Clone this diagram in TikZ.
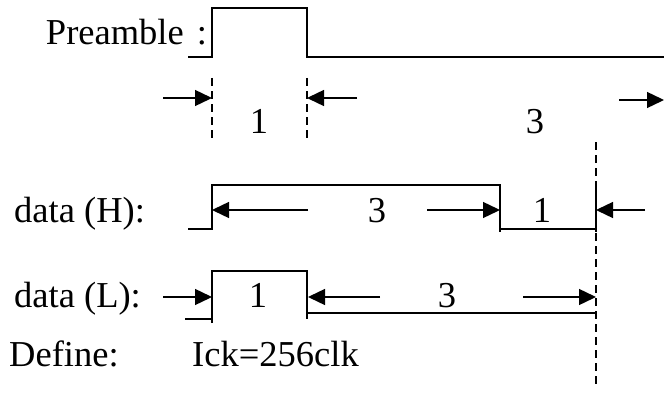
\documentclass[tikz,border=0pt]{standalone}
\usepackage{fontspec}
\setmainfont{Liberation Serif}
\usetikzlibrary{arrows.meta, positioning}

\begin{document}
\begin{tikzpicture}[
    x=1pt, y=-1pt,
    wave/.style={line width=2pt},
    dim/.style={-{Triangle[length=17pt, width=16pt]}, line width=1.4pt},
    guide/.style={line width=1.4pt, dash pattern=on 8pt off 5pt},
    lbl/.style={font=\fontsize{36.5}{40}\selectfont, inner sep=0pt, anchor=base},
    signame/.style={lbl, anchor=base west}
]
    \useasboundingbox (0,0) rectangle (664,396);

    % Signal names
    \node[lbl, anchor=base east] (pre) at (184,45) {Preamble};
    \node[lbl] (colon) at (202,45) {:};
    \node[signame] (dh) at (14,222) {data (H):};
    \node[signame] (dl) at (14,307) {data (L):};
    \node[signame] (def) at (9,366) {Define:};
    \node[signame] (ick) at (192,366) {Ick=256clk};

    % Edge points
    \coordinate (pa) at (212,98);
    \coordinate (pb) at (307,98);
    \coordinate (pc) at (664,100);
    \coordinate (pa0) at (163,98);
    \coordinate (pb0) at (357,98);
    \coordinate (pc0) at (619,100);
    \coordinate (ha) at (212,210);
    \coordinate (hb) at (500,210);
    \coordinate (hc) at (596,210);
    \coordinate (ha0) at (308,210);
    \coordinate (hb0) at (427,210);
    \coordinate (hc0) at (645,210);
    \coordinate (la) at (212,297);
    \coordinate (lb) at (308,297);
    \coordinate (lc) at (596,297);
    \coordinate (la0) at (163,297);
    \coordinate (lb0) at (380,297);
    \coordinate (lc0) at (523,297);

    % Waveforms
    \draw[wave] (188,57) -- (212,57) -- (212,8) -- (307,8) -- (307,57) -- (664,57);
    \draw[wave] (188,229) -- (212,229) -- (212,185) -- (500,185) -- (500,232);
    \draw[wave] (500,229) -- (596,229);
    \draw[wave] (596,185) -- (596,232);
    \draw[wave] (185,319) -- (212,319);
    \draw[wave] (212,323) -- (212,271) -- (307,271) -- (307,319);
    \draw[wave] (307,313) -- (596,313);

    % Guide lines
    \draw[guide] (212,78) -- (212,138);
    \draw[guide] (307,78) -- (307,138);
    \draw[guide] (596,142) -- (596,385);

    % Width arrows
    \draw[dim] (pa0) -- (pa);
    \draw[dim] (pb0) -- (pb);
    \draw[dim] (pc0) -- (pc);
    \draw[dim] (ha0) -- (ha);
    \draw[dim] (hb0) -- (hb);
    \draw[dim] (hc0) -- (hc);
    \draw[dim] (la0) -- (la);
    \draw[dim] (lb0) -- (lb);
    \draw[dim] (lc0) -- (lc);

    % Width labels
    \node[lbl] (w1) at (259,133) {1};
    \node[lbl] (w2) at (535,133) {3};
    \node[lbl] (w3) at (377,222) {3};
    \node[lbl] (w4) at (542,222) {1};
    \node[lbl] (w5) at (258,307) {1};
    \node[lbl] (w6) at (447,307) {3};

\end{tikzpicture}
\end{document}
